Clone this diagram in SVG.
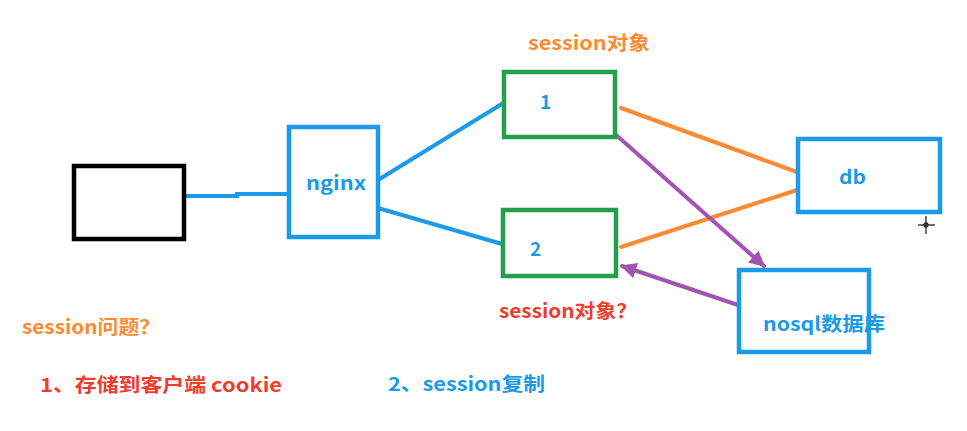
<svg xmlns="http://www.w3.org/2000/svg" width="967" height="431" viewBox="0 0 967 431">
<style>
text{font-family:"Noto Sans CJK SC","Liberation Sans",sans-serif;font-weight:bold;font-size:19px}
.box{fill:#fff;stroke-width:4.5}
.blue{stroke:#1b9ae8}
.green{stroke:#22a04b}
.tb{fill:#1b9ae8}.to{fill:#ff8a33}.tr{fill:#f03c2c}
.ln{fill:none;stroke-width:4;stroke-linecap:round}
</style>
<defs>
<marker id="ap" viewBox="0 0 10 10" refX="9" refY="5" markerWidth="4" markerHeight="4" orient="auto-start-reverse" markerUnits="strokeWidth">
<path d="M0,0 L10,5 L0,10 z" fill="#a453b5"/>
</marker>
</defs>
<rect width="967" height="431" fill="#fff"/>
<g id="connectors">
<path class="ln" stroke="#1b9ae8" d="M186,196 L237,196 L237,194 L288,194"/>
<path class="ln" stroke="#1b9ae8" d="M378,180 L505,102"/>
<path class="ln" stroke="#1b9ae8" d="M378,208 L502,244"/>
<path class="ln" stroke="#ff8a33" d="M621,108 L797,172"/>
<path class="ln" stroke="#ff8a33" d="M621,247 L797,190"/>
<path class="ln" stroke="#a453b5" d="M615,134 L764,266" marker-end="url(#ap)"/>
<path class="ln" stroke="#a453b5" d="M738,305 L622,266" marker-end="url(#ap)"/>
</g>
<g id="client"><rect class="box" x="74" y="166" width="110" height="73" stroke="#000"/></g>
<g id="nginx"><rect class="box blue" x="289" y="127" width="89" height="110"/><text class="tb" x="306" y="190" textLength="60" lengthAdjust="spacingAndGlyphs">nginx</text></g>
<g id="server1"><rect class="box green" x="504" y="72" width="111" height="65"/><text class="tb" x="540" y="109">1</text></g>
<g id="server2"><rect class="box green" x="503" y="210" width="113" height="66"/><text class="tb" x="530" y="256">2</text></g>
<g id="db"><rect class="box blue" x="798" y="139" width="142" height="73"/><text class="tb" x="839" y="184" textLength="27" lengthAdjust="spacingAndGlyphs">db</text></g>
<g id="nosql"><rect class="box blue" x="739" y="270" width="130" height="82"/><text class="tb" x="763" y="331" textLength="122" lengthAdjust="spacingAndGlyphs">nosql数据库</text></g>
<text class="to" x="528" y="50" textLength="122" lengthAdjust="spacingAndGlyphs">session对象</text>
<text class="tr" x="499" y="318" textLength="138" lengthAdjust="spacingAndGlyphs">session对象？</text>
<text class="to" x="22" y="334" textLength="138" lengthAdjust="spacingAndGlyphs">session问题？</text>
<text class="tr" x="40" y="392" textLength="242" lengthAdjust="spacingAndGlyphs">1、存储到客户端 cookie</text>
<text class="tb" x="388" y="391" textLength="157" lengthAdjust="spacingAndGlyphs">2、session复制</text>
<g id="cursor" stroke="#222" stroke-width="1.3" fill="none">
<line x1="918" y1="225" x2="935" y2="225"/><line x1="926" y1="216" x2="926" y2="234"/><circle cx="926" cy="225" r="2"/>
</g>
</svg>
